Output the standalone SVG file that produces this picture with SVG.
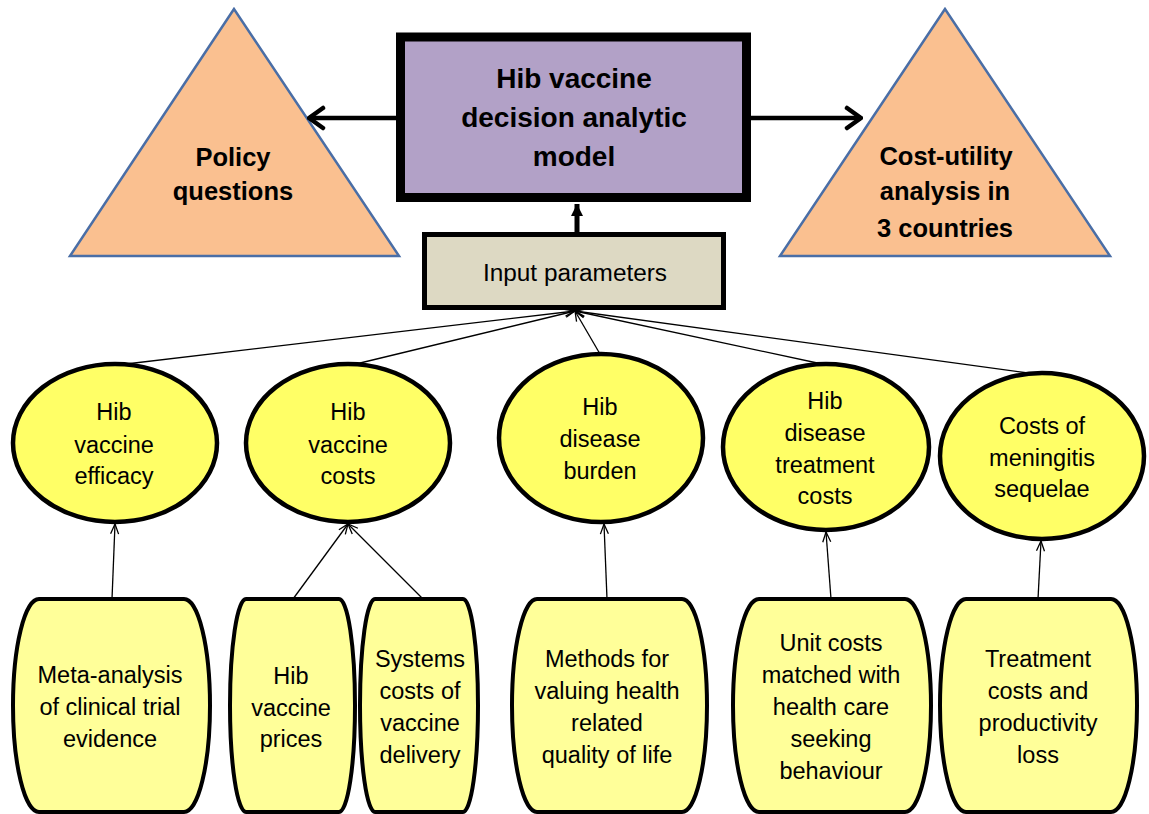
<svg xmlns="http://www.w3.org/2000/svg" width="1149" height="814" viewBox="0 0 1149 814">
<style>
text{font-family:"Liberation Sans",Arial,sans-serif;fill:#000;text-anchor:middle}
.b{font-weight:bold}
.tri{fill:#fac090;stroke:#4a6ea6;stroke-width:2.5}
.ell{fill:#ffff66;stroke:#000;stroke-width:4.5}
.bar{fill:#ffff99;stroke:#000;stroke-width:4}
.s{font-size:23.5px}
.thin{stroke:#000;stroke-width:1.3;fill:none;marker-end:url(#open)}
.thick{stroke:#000;stroke-width:4.5;fill:none;marker-end:url(#chev)}
</style>
<defs>
<marker id="open" viewBox="0 0 12 10" refX="11" refY="5" markerWidth="12" markerHeight="10" markerUnits="userSpaceOnUse" orient="auto">
<path d="M1,1 L11,5 L1,9" fill="none" stroke="#000" stroke-width="1.3"/>
</marker>
<marker id="chev" viewBox="-18 -14 20 28" refX="0" refY="0" markerWidth="20" markerHeight="28" markerUnits="userSpaceOnUse" orient="auto">
<path d="M-14,-10 L0,0 L-14,10" fill="none" stroke="#000" stroke-width="4.5" stroke-linecap="round" stroke-linejoin="round"/>
</marker>
<marker id="solid" viewBox="0 0 14 12" refX="12" refY="6" markerWidth="14" markerHeight="12" markerUnits="userSpaceOnUse" orient="auto">
<path d="M0,0 L12,6 L0,12 Z" fill="#000"/>
</marker>
</defs>

<g id="policy">
<polygon class="tri" points="234,9 70,256 399,256"/>
<text class="b" x="233" y="166" font-size="25.5">Policy</text>
<text class="b" x="233" y="200" font-size="25.5">questions</text>
</g>
<g id="costutility">
<polygon class="tri" points="945,9 780,256 1110,256"/>
<text class="b" x="946" y="165" font-size="25.5">Cost-utility</text>
<text class="b" x="945" y="200" font-size="25.5">analysis in</text>
<text class="b" x="945" y="237" font-size="25.5">3 countries</text>
</g>
<g id="model">
<rect x="400.5" y="37" width="346" height="160.5" fill="#b2a1c7" stroke="#000" stroke-width="9"/>
<text class="b" x="574" y="88" font-size="28">Hib vaccine</text>
<text class="b" x="574" y="127" font-size="28">decision analytic</text>
<text class="b" x="574" y="166" font-size="28">model</text>
</g>
<g id="input">
<rect x="424.5" y="234.5" width="299" height="73" fill="#ddd9c3" stroke="#000" stroke-width="5"/>
<text x="575" y="281" font-size="23" textLength="184" lengthAdjust="spacingAndGlyphs">Input parameters</text>
</g>

<g id="e1">
<ellipse class="ell" cx="115" cy="443" rx="102" ry="79"/>
<text class="s" x="114" y="420">Hib</text>
<text class="s" x="114" y="453">vaccine</text>
<text class="s" x="114" y="484">efficacy</text>
</g>
<g id="e2">
<ellipse class="ell" cx="348" cy="443" rx="102" ry="79"/>
<text class="s" x="348" y="420">Hib</text>
<text class="s" x="348" y="453">vaccine</text>
<text class="s" x="348" y="484">costs</text>
</g>
<g id="e3">
<ellipse class="ell" cx="601" cy="438" rx="102" ry="84"/>
<text class="s" x="600" y="415">Hib</text>
<text class="s" x="600" y="447">disease</text>
<text class="s" x="600" y="479">burden</text>
</g>
<g id="e4">
<ellipse class="ell" cx="826" cy="447" rx="103" ry="83"/>
<text class="s" x="825" y="409">Hib</text>
<text class="s" x="825" y="441">disease</text>
<text class="s" x="825" y="473">treatment</text>
<text class="s" x="825" y="504">costs</text>
</g>
<g id="e5">
<ellipse class="ell" cx="1042" cy="456" rx="102" ry="83"/>
<text class="s" x="1042" y="434">Costs of</text>
<text class="s" x="1042" y="466">meningitis</text>
<text class="s" x="1042" y="497">sequelae</text>
</g>

<g id="b1">
<path class="bar" d="M39,599 H184 A26,106.5 0 0 1 184,812 H39 A26,106.5 0 0 1 39,599 Z"/>
<text class="s" x="110" y="683">Meta-analysis</text>
<text class="s" x="110" y="715">of clinical trial</text>
<text class="s" x="110" y="747">evidence</text>
</g>
<g id="b2">
<path class="bar" d="M246,599 H339 A16,106.5 0 0 1 339,812 H246 A16,106.5 0 0 1 246,599 Z"/>
<text class="s" x="291" y="684">Hib</text>
<text class="s" x="291" y="716">vaccine</text>
<text class="s" x="291" y="747">prices</text>
</g>
<g id="b3">
<path class="bar" d="M375,599 H463 A15,106.5 0 0 1 463,812 H375 A15,106.5 0 0 1 375,599 Z"/>
<text class="s" x="420" y="667">Systems</text>
<text class="s" x="420" y="699">costs of</text>
<text class="s" x="420" y="731">vaccine</text>
<text class="s" x="420" y="763">delivery</text>
</g>
<g id="b4">
<path class="bar" d="M537,599 H682 A25,106.5 0 0 1 682,812 H537 A25,106.5 0 0 1 537,599 Z"/>
<text class="s" x="607" y="667">Methods for</text>
<text class="s" x="607" y="699">valuing health</text>
<text class="s" x="607" y="731">related</text>
<text class="s" x="607" y="763">quality of life</text>
</g>
<g id="b5">
<path class="bar" d="M759,599 H905 A26,106.5 0 0 1 905,812 H759 A26,106.5 0 0 1 759,599 Z"/>
<text class="s" x="831" y="651">Unit costs</text>
<text class="s" x="831" y="683">matched with</text>
<text class="s" x="831" y="715">health care</text>
<text class="s" x="831" y="747">seeking</text>
<text class="s" x="831" y="779">behaviour</text>
</g>
<g id="b6">
<path class="bar" d="M966,599 H1111 A26,106.5 0 0 1 1111,812 H966 A26,106.5 0 0 1 966,599 Z"/>
<text class="s" x="1038" y="667">Treatment</text>
<text class="s" x="1038" y="699">costs and</text>
<text class="s" x="1038" y="731">productivity</text>
<text class="s" x="1038" y="763">loss</text>
</g>

<g id="connectors">
<line class="thick" x1="396" y1="118" x2="309" y2="118"/>
<line class="thick" x1="751" y1="118" x2="861" y2="118"/>
<line x1="577" y1="232" x2="577" y2="204" stroke="#000" stroke-width="5" marker-end="url(#solid)"/>
<line class="thin" x1="126" y1="364" x2="575" y2="311"/>
<line class="thin" x1="356" y1="364" x2="575" y2="311"/>
<line class="thin" x1="600" y1="354" x2="575" y2="311"/>
<line class="thin" x1="822" y1="364" x2="575" y2="311"/>
<line class="thin" x1="1028" y1="373" x2="575" y2="311"/>
<line class="thin" x1="112" y1="599" x2="115" y2="524"/>
<line class="thin" x1="293" y1="599" x2="348" y2="524"/>
<line class="thin" x1="423" y1="599" x2="348" y2="524"/>
<line class="thin" x1="607" y1="599" x2="604" y2="524"/>
<line class="thin" x1="831" y1="599" x2="826" y2="532"/>
<line class="thin" x1="1038" y1="599" x2="1041" y2="541"/>
</g>
</svg>
